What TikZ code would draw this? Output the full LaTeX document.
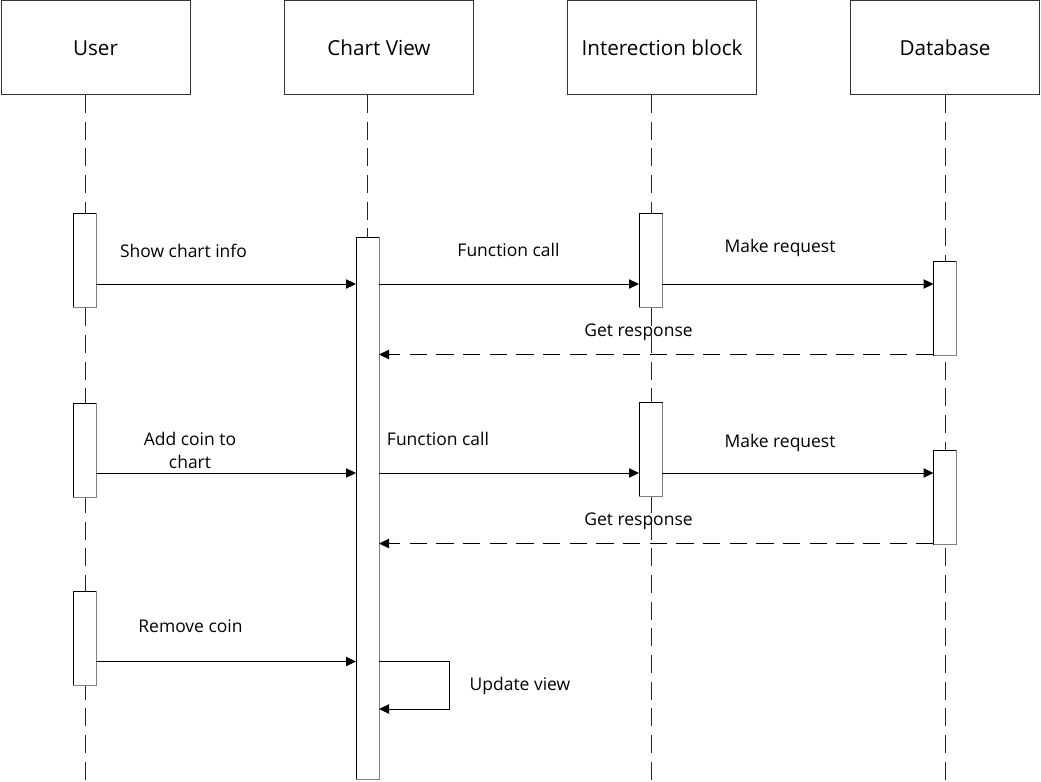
\documentclass[tikz,border=0pt]{standalone}
\usepackage{fontspec}
\setmainfont{Open Sans}
\usetikzlibrary{arrows.meta,calc}
\begin{document}
\begin{tikzpicture}[x=0.75pt,y=-0.75pt,
  font=\fontsize{13.1}{17.3}\selectfont,
  hdr/.style={draw=black!80,line width=0.75pt,minimum width=141.75pt,minimum height=70.5pt,inner sep=0pt,outer sep=0pt,font=\fontsize{15.5}{18}\selectfont},
  act/.style={draw=black,fill=white,line width=0.75pt,minimum width=17.25pt,inner sep=0pt,outer sep=0pt},
  life/.style={line width=0.75pt,dash pattern=on 13.5pt off 6.5pt,black!85},
  msg/.style={line width=0.75pt,-{Triangle[length=7.5pt,width=7pt]}},
  ret/.style={msg,dash pattern=on 13pt off 7pt},
  lbl/.style={inner sep=0pt,align=center}]
\useasboundingbox (0,0) rectangle (1041,781);
% headers
\node[hdr] (user) at (95.5,48) {User};
\node[hdr] (chart) at (379,48) {Chart View};
\node[hdr] (inter) at (662,48) {Interection block};
\node[hdr] (db) at (945,48) {Database};
\coordinate (bottom) at (0,781);
\coordinate (xu) at (85,0);
\coordinate (xc) at (367,0);
\coordinate (xi) at (651,0);
\coordinate (xd) at (945,0);
% lifelines
\draw[life] (xu |- user.south) -- (xu |- bottom);
\draw[life] (xc |- chart.south) -- (xc |- bottom);
\draw[life] (xi |- inter.south) -- (xi |- bottom);
\draw[life] (xd |- db.south) -- (xd |- bottom);
% activations
\node[act,minimum height=70.5pt] (u1) at (84.5,260) {};
\node[act,minimum height=70.5pt] (u2) at (84.5,450) {};
\node[act,minimum height=70.5pt] (u3) at (84.5,638) {};
\node[act,minimum height=406.5pt] (c1) at (367.5,508) {};
\node[act,minimum height=70.5pt] (i1) at (650.5,260.5) {};
\node[act,minimum height=70pt] (i2) at (650.5,449.5) {};
\node[act,minimum height=70.5pt] (d1) at (945,308) {};
\node[act,minimum height=70.5pt] (d2) at (945,497) {};
\foreach \n in {u1,u2,u3,c1,i1,i2,d1,d2}
  \draw[black!50,line width=0.75pt] (\n.north east) -- (\n.south east) -- (\n.south west);
% rows
\coordinate (r1) at (0,284);
\coordinate (r2) at (0,354.5);
\coordinate (r3) at (0,473);
\coordinate (r4) at (0,543.5);
\coordinate (r5) at (0,661.5);
\coordinate (r6) at (0,709);
\coordinate (loopx) at (449.5,0);
% messages
\draw[msg] (u1.east |- r1) -- (c1.west |- r1);
\draw[msg] (c1.east |- r1) -- (i1.west |- r1);
\draw[msg] (i1.east |- r1) -- (d1.west |- r1);
\draw[ret] (d1.west |- r2) -- (c1.east |- r2);
\draw[msg] (u2.east |- r3) -- (c1.west |- r3);
\draw[msg] (c1.east |- r3) -- (i2.west |- r3);
\draw[msg] (i2.east |- r3) -- (d2.west |- r3);
\draw[ret] (d2.west |- r4) -- (c1.east |- r4);
\draw[msg] (u3.east |- r5) -- (c1.west |- r5);
\draw[msg] (c1.east |- r5) -- (loopx |- r5) -- (loopx |- r6) -- (c1.east |- r6);
% labels
\node[lbl] (l1) at (183.5,251) {Show chart info};
\node[lbl] (l2) at (508.5,249.5) {Function call};
\node[lbl] (l3) at (780,247.5) {Make request};
\node[lbl] (l4) at (638.5,332.5) {Get response};
\node[lbl] (l5) at (190,450) {Add coin to\\chart};
\node[lbl] (l6) at (438,438.5) {Function call};
\node[lbl] (l7) at (780,443) {Make request};
\node[lbl] (l8) at (638.5,521) {Get response};
\node[lbl] (l9) at (190.5,626.5) {Remove coin};
\node[lbl] (l10) at (520,686) {Update view};
\end{tikzpicture}
\end{document}
